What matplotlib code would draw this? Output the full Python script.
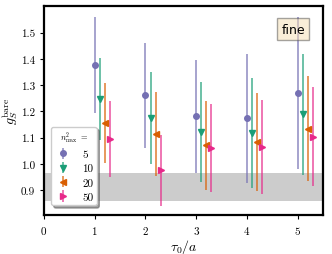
import matplotlib
matplotlib.use("Agg")
import matplotlib.pyplot as plt
import numpy as np

plt.rcParams['font.family'] = 'serif'
plt.rcParams['font.serif'] = ['cmr10', 'DejaVu Serif']
plt.rcParams['mathtext.fontset'] = 'cm'
plt.rcParams['axes.formatter.use_mathtext'] = True

tau = [1, 2, 3, 4, 5]
labels = ['5', '10', '20', '50']
offsets = [0.0, 0.1, 0.2, 0.3]
markers = ['o', 'v', '<', '>']
colors = ['#7570b3', '#1b9e77', '#d95f02', '#e7298a']

g_5 = [1.375, 1.261, 1.181, 1.174, 1.271]
e_5 = [0.183, 0.200, 0.216, 0.246, 0.290]
g_10 = [1.248, 1.174, 1.121, 1.118, 1.188]
e_10 = [0.157, 0.175, 0.190, 0.210, 0.232]
g_20 = [1.156, 1.113, 1.070, 1.083, 1.134]
e_20 = [0.152, 0.160, 0.170, 0.188, 0.200]
g_50 = [1.093, 0.976, 1.060, 1.065, 1.104]
e_50 = [0.145, 0.135, 0.167, 0.180, 0.190]

band_lo, band_hi = 0.857, 0.966

vals = [g_5, g_10, g_20, g_50]
errs = [e_5, e_10, e_20, e_50]

fig = plt.figure(figsize=(3.32, 2.55), dpi=100)
ax = fig.add_axes([0.1325, 0.153, 0.8405, 0.818])

ax.axhspan(band_lo, band_hi, color='#cccccc', lw=0, zorder=0)

for v, e, off, m, c, lab in zip(vals, errs, offsets, markers, colors, labels):
    x = np.array(tau) + off
    ax.errorbar(x, v, yerr=e, fmt=m, color=c, ecolor=matplotlib.colors.to_rgba(c, 0.75),
                ms=4, elinewidth=1.2, capsize=0, label=lab, zorder=3)

ax.set_xlim(0, 5.5)
ax.set_ylim(0.805, 1.60)
ax.set_xticks([0, 1, 2, 3, 4, 5])
ax.set_yticks([0.9, 1.0, 1.1, 1.2, 1.3, 1.4, 1.5])
ax.set_yticklabels(['0.9', '1.0', '1.1', '1.2', '1.3', '1.4', '1.5'])
ax.tick_params(labelsize=8, length=3, width=0.8)
for s in ax.spines.values():
    s.set_linewidth(1.6)

ax.set_xlabel(r'$\tau_0/a$', fontsize=10, labelpad=1)
ax.set_ylabel(r'$g_S^{\mathrm{bare}}$', fontsize=10)
ax.yaxis.set_label_coords(-0.085, 0.5)

leg = ax.legend(title=r'$n^2_{\max}\ =$', loc='lower left', fontsize=8, title_fontsize=6,
                fancybox=True, shadow=True, framealpha=1, borderaxespad=0.5,
                handletextpad=1.0, labelspacing=0.4, borderpad=0.3, handlelength=1.5,
                bbox_to_anchor=(0.005, 0.02))

ax.text(0.935, 0.921, 'fine', transform=ax.transAxes, ha='right', va='top',
        fontsize=9, family='DejaVu Sans',
        bbox=dict(boxstyle='square,pad=0.35', facecolor='wheat', alpha=0.5, edgecolor='0.3'))

fig.savefig('out.png', dpi=100)
